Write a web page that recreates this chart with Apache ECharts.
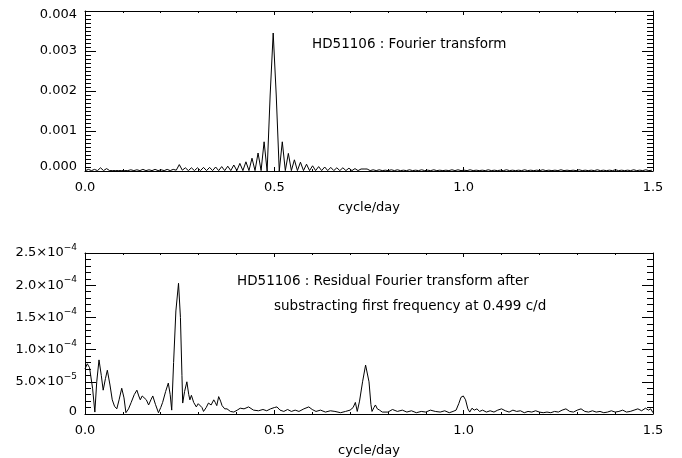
<!DOCTYPE html>
<html>
<head>
<meta charset="utf-8">
<script src="https://cdn.jsdelivr.net/npm/echarts@6/dist/echarts.min.js"></script>
<style>
html, body { margin: 0; background: #fff; }
#main { width: 682px; height: 458px; }
</style>
</head>
<body>
<div id="main"></div>
<script>
var myChart = echarts.init(document.getElementById('main'));

// top panel: Fourier amplitude, [cycle/day, amplitude in 1e-5]
var topSpec = [
  [0.001, 1], [0.009, 4], [0.017, 1], [0.025, 4], [0.033, 1], [0.041, 8], [0.049, 1], [0.057, 6],
  [0.065, 1], [0.073, 1], [0.081, 1], [0.089, 1], [0.097, 1], [0.105, 1], [0.113, 1], [0.121, 3],
  [0.129, 1], [0.137, 3], [0.145, 1], [0.153, 4], [0.161, 1], [0.169, 3], [0.177, 1], [0.185, 4],
  [0.193, 1], [0.201, 3], [0.209, 1], [0.217, 4], [0.225, 1], [0.233, 4], [0.241, 2], [0.249, 16],
  [0.257, 2], [0.265, 8], [0.273, 1], [0.281, 8], [0.289, 1], [0.297, 8], [0.305, 1], [0.313, 9],
  [0.321, 1], [0.329, 9], [0.337, 1], [0.345, 10], [0.353, 1], [0.361, 11], [0.369, 1], [0.377, 12],
  [0.385, 1], [0.393, 15], [0.401, 1], [0.409, 19], [0.417, 1], [0.425, 23], [0.433, 1], [0.441, 32],
  [0.449, 1], [0.457, 45], [0.465, 1], [0.473, 73], [0.481, 0], [0.489, 190], [0.497, 345], [0.505, 190],
  [0.513, 0], [0.521, 73], [0.529, 1], [0.537, 44], [0.545, 1], [0.553, 28], [0.561, 1], [0.569, 22],
  [0.577, 1], [0.585, 17], [0.593, 1], [0.601, 13], [0.609, 1], [0.617, 11], [0.625, 1], [0.633, 10],
  [0.641, 1], [0.649, 9], [0.657, 1], [0.665, 8], [0.673, 1], [0.681, 8], [0.689, 1], [0.697, 7],
  [0.705, 1], [0.713, 6], [0.721, 1], [0.729, 5], [0.737, 5], [0.745, 5], [0.753, 1], [0.761, 3],
  [0.769, 1], [0.777, 3], [0.785, 1], [0.793, 2], [0.801, 1], [0.809, 3], [0.817, 1], [0.825, 3],
  [0.833, 1], [0.841, 2], [0.849, 1], [0.857, 3], [0.865, 1], [0.873, 2], [0.881, 1], [0.889, 3],
  [0.897, 1], [0.905, 2], [0.913, 1], [0.921, 3], [0.929, 1], [0.937, 2], [0.945, 1], [0.953, 2],
  [0.961, 1], [0.969, 3], [0.977, 1], [0.985, 3], [0.993, 1], [1.001, 2], [1.009, 1], [1.017, 3],
  [1.025, 1], [1.033, 2], [1.041, 1], [1.049, 2], [1.057, 1], [1.065, 3], [1.073, 1], [1.081, 2],
  [1.089, 1], [1.097, 2], [1.105, 1], [1.113, 3], [1.121, 1], [1.129, 2], [1.137, 1], [1.145, 2],
  [1.153, 1], [1.161, 3], [1.169, 1], [1.177, 2], [1.185, 1], [1.193, 2], [1.201, 1], [1.209, 3],
  [1.217, 1], [1.225, 2], [1.233, 1], [1.241, 2], [1.249, 1], [1.257, 3], [1.265, 1], [1.273, 2],
  [1.281, 1], [1.289, 2], [1.297, 1], [1.305, 3], [1.313, 1], [1.321, 2], [1.329, 1], [1.337, 2],
  [1.345, 1], [1.353, 3], [1.361, 1], [1.369, 2], [1.377, 1], [1.385, 2], [1.393, 1], [1.401, 3],
  [1.409, 1], [1.417, 2], [1.425, 1], [1.433, 2], [1.441, 1], [1.449, 3], [1.457, 1], [1.465, 2],
  [1.473, 1], [1.481, 3], [1.489, 1], [1.497, 2]
];

// bottom panel: residual amplitude, [cycle/day, amplitude in 1e-6]
var botSpec = [
  [0.000, 70], [0.006, 78], [0.012, 72], [0.020, 40], [0.026, 3], [0.031, 50], [0.037, 84], [0.043, 60],
  [0.048, 37], [0.054, 55], [0.059, 68], [0.066, 45], [0.072, 22], [0.078, 12], [0.084, 8], [0.090, 22],
  [0.097, 40], [0.103, 25], [0.108, 2], [0.115, 8], [0.122, 18], [0.130, 30], [0.137, 37], [0.142, 28],
  [0.146, 22], [0.151, 28], [0.156, 30], [0.162, 22], [0.168, 14], [0.174, 22], [0.179, 28], [0.186, 15],
  [0.194, 2], [0.200, 10], [0.205, 18], [0.213, 35], [0.220, 48], [0.225, 30], [0.229, 6], [0.234, 80],
  [0.240, 160], [0.247, 203], [0.252, 150], [0.256, 60], [0.258, 17], [0.263, 35], [0.269, 50], [0.274, 30],
  [0.277, 22], [0.281, 29], [0.287, 18], [0.294, 11], [0.299, 16], [0.304, 19], [0.309, 10], [0.313, 4],
  [0.320, 10], [0.326, 17], [0.333, 14], [0.340, 22], [0.344, 18], [0.348, 13], [0.353, 27], [0.358, 20],
  [0.362, 13], [0.369, 8], [0.375, 8], [0.384, 4], [0.393, 3], [0.402, 6], [0.410, 9], [0.420, 8],
  [0.432, 11], [0.445, 6], [0.458, 5], [0.470, 7], [0.480, 5], [0.490, 8], [0.500, 10], [0.507, 11],
  [0.515, 6], [0.525, 4], [0.535, 7], [0.545, 4], [0.555, 6], [0.565, 4], [0.578, 8], [0.591, 11],
  [0.600, 7], [0.610, 4], [0.622, 6], [0.635, 3], [0.648, 5], [0.660, 4], [0.675, 2], [0.688, 4],
  [0.700, 6], [0.708, 10], [0.714, 18], [0.719, 4], [0.725, 20], [0.733, 50], [0.741, 76], [0.745, 78],
  [0.750, 50], [0.755, 15], [0.758, 4], [0.763, 10], [0.767, 14], [0.772, 8], [0.778, 6], [0.785, 3],
  [0.790, 6], [0.800, 3], [0.812, 7], [0.825, 4], [0.838, 6], [0.850, 3], [0.862, 5], [0.875, 2],
  [0.888, 4], [0.900, 3], [0.912, 6], [0.925, 4], [0.938, 3], [0.950, 5], [0.962, 2], [0.972, 4],
  [0.980, 6], [0.987, 16], [0.993, 26], [0.999, 28], [1.005, 22], [1.011, 8], [1.016, 3], [1.022, 9],
  [1.028, 6], [1.035, 8], [1.042, 4], [1.050, 6], [1.060, 3], [1.070, 5], [1.080, 3], [1.090, 6],
  [1.100, 8], [1.110, 5], [1.120, 3], [1.130, 6], [1.140, 4], [1.150, 5], [1.160, 2], [1.170, 4],
  [1.180, 3], [1.190, 5], [1.200, 3], [1.210, 2], [1.220, 3], [1.230, 2], [1.240, 4], [1.250, 3],
  [1.260, 6], [1.270, 8], [1.280, 4], [1.290, 3], [1.300, 6], [1.310, 8], [1.320, 4], [1.330, 3],
  [1.340, 5], [1.350, 3], [1.360, 4], [1.370, 2], [1.380, 3], [1.390, 5], [1.400, 3], [1.410, 4],
  [1.420, 6], [1.430, 3], [1.440, 4], [1.450, 6], [1.460, 8], [1.470, 5], [1.480, 9], [1.488, 6],
  [1.494, 8], [1.500, 2]
];

var xTickLabels = ['0.0', '0.5', '1.0', '1.5'];
var topYLabels = ['0.000', '0.001', '0.002', '0.003', '0.004'];
var botYMant = ['0', '5.0', '1.0', '1.5', '2.0', '2.5'];
var botYExp = ['', '\u22125', '\u22124', '\u22124', '\u22124', '\u22124'];

var FONT = 'DejaVu Sans';
var black = '#000';

function xAxis(grid, pos, withLabels) {
  return {
    type: 'value', gridIndex: grid, position: pos,
    min: 0, max: 1.5, interval: 0.5,
    axisLine: { show: true, onZero: false, lineStyle: { color: black, width: 1 } },
    axisTick: { show: true, inside: true, length: 4, lineStyle: { color: black } },
    minorTick: { show: true, splitNumber: 5, length: 2, lineStyle: { color: black } },
    splitLine: { show: false },
    axisLabel: {
      show: withLabels, margin: 10, color: black, fontFamily: FONT, fontSize: 13,
      formatter: function (v) { return xTickLabels[Math.round(v / 0.5)]; }
    },
    name: withLabels ? 'cycle/day' : '',
    nameLocation: 'middle', nameGap: 30,
    nameTextStyle: { color: black, fontFamily: FONT, fontSize: 13 }
  };
}

function yAxis(grid, pos, max, interval, minorSplit, fmt, rich) {
  return {
    type: 'value', gridIndex: grid, position: pos,
    min: 0, max: max, interval: interval,
    axisLine: { show: true, onZero: false, lineStyle: { color: black, width: 1 } },
    axisTick: { show: true, inside: true, length: 11, lineStyle: { color: black } },
    minorTick: { show: true, splitNumber: minorSplit, length: 6, lineStyle: { color: black } },
    splitLine: { show: false },
    axisLabel: {
      show: !!fmt, margin: 8, color: black, fontFamily: FONT, fontSize: 13,
      formatter: fmt, rich: rich
    }
  };
}

function topFmt(v) {
  var i = Math.round(v / 100);
  if (i === 0) return '{lo|' + topYLabels[i] + '}';
  if (i === 4) return '{hi|' + topYLabels[i] + '}';
  return topYLabels[i];
}

function botFmt(v) {
  var i = Math.round(v / 50);
  if (i === 0) return '{z|' + botYMant[0] + '}';
  return '{m|' + botYMant[i] + '\u00d710}{e|' + botYExp[i] + '}';
}

var topRich = {
  lo: { fontFamily: FONT, fontSize: 13, color: black, padding: [0, 0, 9, 0] },
  hi: { fontFamily: FONT, fontSize: 13, color: black, padding: [7, 0, 0, 0] }
};
var botRich = {
  z: { fontFamily: FONT, fontSize: 13, color: black, padding: [0, 0, 4, 0] },
  m: { fontFamily: FONT, fontSize: 13, color: black, lineHeight: 20 },
  e: { fontFamily: FONT, fontSize: 9, color: black, lineHeight: 10, verticalAlign: 'top' }
};

var noteFont = '13.5px "DejaVu Sans"';

var option = {
  animation: false,
  backgroundColor: '#fff',
  grid: [
    { left: 85, top: 11, width: 568, height: 160 },
    { left: 85, top: 253, width: 568, height: 161 }
  ],
  xAxis: [
    xAxis(0, 'bottom', true),
    xAxis(0, 'top', false),
    xAxis(1, 'bottom', true),
    xAxis(1, 'top', false)
  ],
  yAxis: [
    yAxis(0, 'left', 400, 100, 10, topFmt, topRich),
    yAxis(0, 'right', 400, 100, 10, null, null),
    yAxis(1, 'left', 250, 50, 5, botFmt, botRich),
    yAxis(1, 'right', 250, 50, 5, null, null)
  ],
  graphic: [
    { type: 'text', left: 312, top: 37, style: { text: 'HD51106 : Fourier transform', font: noteFont, fill: black } },
    { type: 'text', left: 237, top: 274, style: { text: 'HD51106 : Residual Fourier transform after', font: noteFont, fill: black } },
    { type: 'text', left: 274, top: 299, style: { text: 'substracting first frequency at 0.499 c/d', font: noteFont, fill: black } }
  ],
  series: [
    {
      name: 'Fourier transform', type: 'line', xAxisIndex: 0, yAxisIndex: 0,
      data: topSpec, showSymbol: false, silent: true,
      lineStyle: { color: black, width: 1 }
    },
    {
      name: 'Residual', type: 'line', xAxisIndex: 2, yAxisIndex: 2,
      data: botSpec, showSymbol: false, silent: true,
      lineStyle: { color: black, width: 1 }
    }
  ]
};
myChart.setOption(option);
</script>
</body>
</html>
